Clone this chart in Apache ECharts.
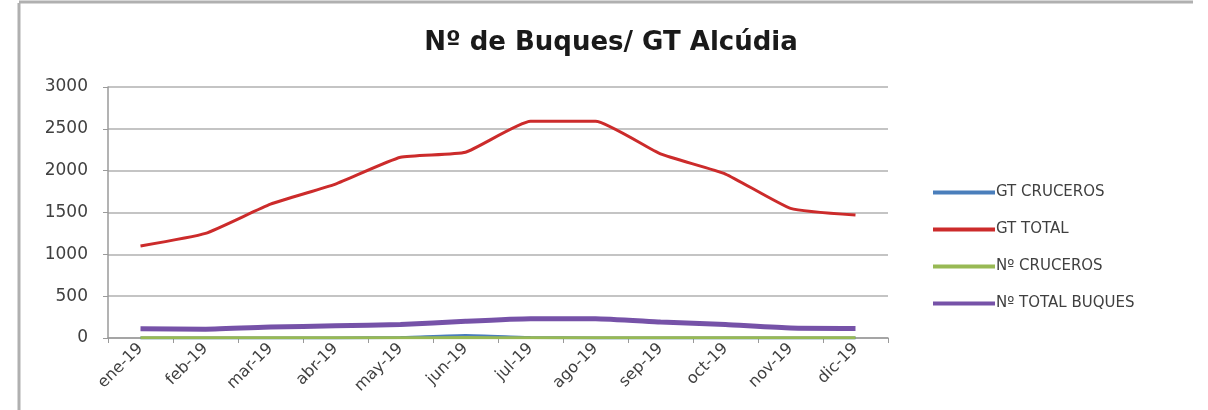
<!DOCTYPE html>
<html>
<head>
<meta charset="utf-8">
<script src="https://cdn.jsdelivr.net/npm/echarts@6/dist/echarts.min.js"></script>
<style>
  html, body { margin: 0; padding: 0; background: #fff; }
  #chart { width: 1208px; height: 410px; }
</style>
</head>
<body>
<div id="chart"></div>
<script>
// months of 2019
var months = ['ene-19', 'feb-19', 'mar-19', 'abr-19', 'may-19', 'jun-19',
              'jul-19', 'ago-19', 'sep-19', 'oct-19', 'nov-19', 'dic-19'];

var gtCruceros   = [0, 0, 0, 0, 5, 30, 5, 0, 0, 0, 0, 0];
var gtTotal      = [1100, 1250, 1600, 1840, 2160, 2220, 2590, 2590, 2200, 1960, 1550, 1470];
var nCruceros    = [2, 2, 2, 2, 3, 5, 3, 2, 2, 2, 2, 2];
var nTotalBuques = [110, 105, 130, 145, 160, 200, 230, 230, 190, 160, 120, 115];

var myChart = echarts.init(document.getElementById('chart'));

var lineSeries = function (name, data, color, width, z) {
  return {
    name: name,
    type: 'line',
    data: data,
    smooth: 0.15,
    symbol: 'none',
    z: z,
    lineStyle: { color: color, width: width },
    itemStyle: { color: color }
  };
};

var option = {
  animation: false,
  backgroundColor: '#fff',
  title: {
    text: 'Nº de Buques/ GT Alcúdia',
    left: 606,
    textAlign: 'center',
    top: 25,
    textStyle: { fontFamily: 'DejaVu Sans', fontWeight: 'bold', fontSize: 26, color: '#1a1a1a' }
  },
  legend: {
    orient: 'vertical',
    left: 928,
    top: 180,
    itemGap: 22,
    itemWidth: 62,
    itemHeight: 4,
    icon: 'rect',
    data: ['GT CRUCEROS', 'GT TOTAL', 'Nº CRUCEROS', 'Nº TOTAL BUQUES'],
    textStyle: { fontFamily: 'DejaVu Sans', fontSize: 15, color: '#404040', padding: [0, 0, 0, -4] }
  },
  grid: { left: 108, right: 320, top: 87, bottom: 72 },
  xAxis: {
    type: 'category',
    data: months,
    boundaryGap: true,
    axisLine: { lineStyle: { color: '#9a9a9a', width: 1.5 } },
    axisTick: { show: true, length: 5, lineStyle: { color: '#9a9a9a' } },
    axisLabel: {
      rotate: 45,
      margin: 8,
      fontFamily: 'DejaVu Sans',
      fontSize: 16,
      color: '#404040'
    }
  },
  yAxis: {
    type: 'value',
    min: 0,
    max: 3000,
    interval: 500,
    axisLine: { show: true, lineStyle: { color: '#9a9a9a', width: 1.5 } },
    axisTick: { show: true, length: 5, lineStyle: { color: '#9a9a9a' } },
    axisLabel: {
      margin: 20,
      fontFamily: 'DejaVu Sans',
      fontSize: 17,
      color: '#404040',
      formatter: function (v) { return String(v); }
    },
    splitLine: { lineStyle: { color: '#c4c4c4', width: 2 } }
  },
  graphic: [
    { type: 'line', shape: { x1: 19, y1: 3, x2: 19, y2: 410 }, style: { stroke: '#b0b0b0', lineWidth: 3 } },
    { type: 'line', shape: { x1: 19, y1: 2, x2: 1193, y2: 2 }, style: { stroke: '#b0b0b0', lineWidth: 3 } }
  ],
  series: [
    lineSeries('GT CRUCEROS', gtCruceros, '#4a7ebb', 3, 2),
    lineSeries('GT TOTAL', gtTotal, '#cc2b2b', 3, 3),
    lineSeries('Nº CRUCEROS', nCruceros, '#98b954', 3, 4),
    lineSeries('Nº TOTAL BUQUES', nTotalBuques, '#7652a8', 5, 3)
  ]
};

myChart.setOption(option);
</script>
</body>
</html>
